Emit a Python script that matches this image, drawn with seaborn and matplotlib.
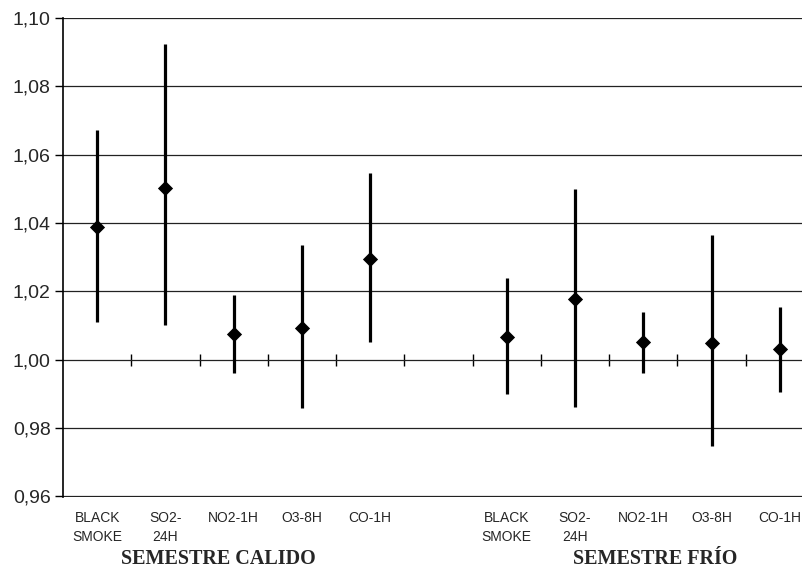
import pandas as pd
import matplotlib
matplotlib.use("Agg")
import matplotlib.pyplot as plt
import seaborn as sns
from matplotlib.ticker import FuncFormatter

# values (relative risk, point + interval)
warm_labels = ["BLACK\nSMOKE", "SO2-\n24H", "NO2-1H", "O3-8H", "CO-1H"]
cold_labels = ["BLACK\nSMOKE", "SO2-\n24H", "NO2-1H", "O3-8H", "CO-1H"]
warm_mid = [1.0387, 1.0502, 1.0076, 1.0092, 1.0296]
warm_lo = [1.0110, 1.0100, 0.9960, 0.9858, 1.0051]
warm_hi = [1.0673, 1.0924, 1.0190, 1.0337, 1.0547]
cold_mid = [1.0066, 1.0177, 1.0051, 1.0050, 1.0031]
cold_lo = [0.9900, 0.9862, 0.9960, 0.9747, 0.9905]
cold_hi = [1.0238, 1.0500, 1.0139, 1.0366, 1.0153]
group_titles = ["SEMESTRE CALIDO", "SEMESTRE FRÍO"]
y_ticks = [0.96, 0.98, 1.00, 1.02, 1.04, 1.06, 1.08, 1.10]

# slots 0-4 warm, slot 5 empty gap, slots 6-10 cold
df = pd.DataFrame({
    "pos": list(range(5)) + list(range(6, 11)),
    "label": warm_labels + cold_labels,
    "mid": warm_mid + cold_mid,
    "lo": warm_lo + cold_lo,
    "hi": warm_hi + cold_hi,
})

sns.set_style("white")
plt.rcParams["font.family"] = ["Liberation Sans", "DejaVu Sans"]

W, H = 802, 570
fig = plt.figure(figsize=(W / 100, H / 100), dpi=100)
left, right, top, bottom = 63, 814, 18, 497
ax = fig.add_axes([left / W, 1 - bottom / H, (right - left) / W, (bottom - top) / H])

ax.vlines(df["pos"], df["lo"], df["hi"], color="black", linewidth=2.3, zorder=3)
sns.scatterplot(data=df, x="pos", y="mid", marker="D", s=60, color="black",
                edgecolor="black", linewidth=0, zorder=4, ax=ax)

ax.set_xlim(-0.5, 10.5)
ax.set_ylim(0.9598, 1.10)
ax.set_yticks(y_ticks)
ax.yaxis.set_major_formatter(FuncFormatter(lambda v, p: f"{v:.2f}".replace(".", ",")))
ax.tick_params(axis="y", direction="out", length=6, width=1, color="black",
               labelsize=14, pad=3, left=True)
ax.yaxis.grid(True, color="#222222", linewidth=0.9)
ax.set_axisbelow(True)

ax.set_xticks(df["pos"])
ax.set_xticklabels(df["label"], fontsize=10, linespacing=1.45, va="top")
ax.tick_params(axis="x", length=0, pad=10)
ax.set_xlabel("")
ax.set_ylabel("")

for s in ["top", "right", "bottom"]:
    ax.spines[s].set_visible(False)
ax.spines["left"].set_color("black")
ax.spines["left"].set_linewidth(1.2)

# axis line at 1.00 with ticks between categories
frac = (1.00 - 0.9598) / (1.10 - 0.9598)
sec = ax.secondary_xaxis(frac)
sec.set_xticks([i + 0.5 for i in range(10)])
sec.set_xticklabels([])
sec.tick_params(direction="inout", length=9, width=1, color="black")
sec.spines["bottom"].set_visible(False)
sec.spines["top"].set_visible(False)

for title, cx in zip(group_titles, [1.77, 8.17]):
    ax.text(cx, -0.129, title, transform=ax.get_xaxis_transform(), ha="center",
            va="center", fontsize=14.5, fontweight="bold", family="Liberation Serif")

fig.savefig("out.png", dpi=100)
